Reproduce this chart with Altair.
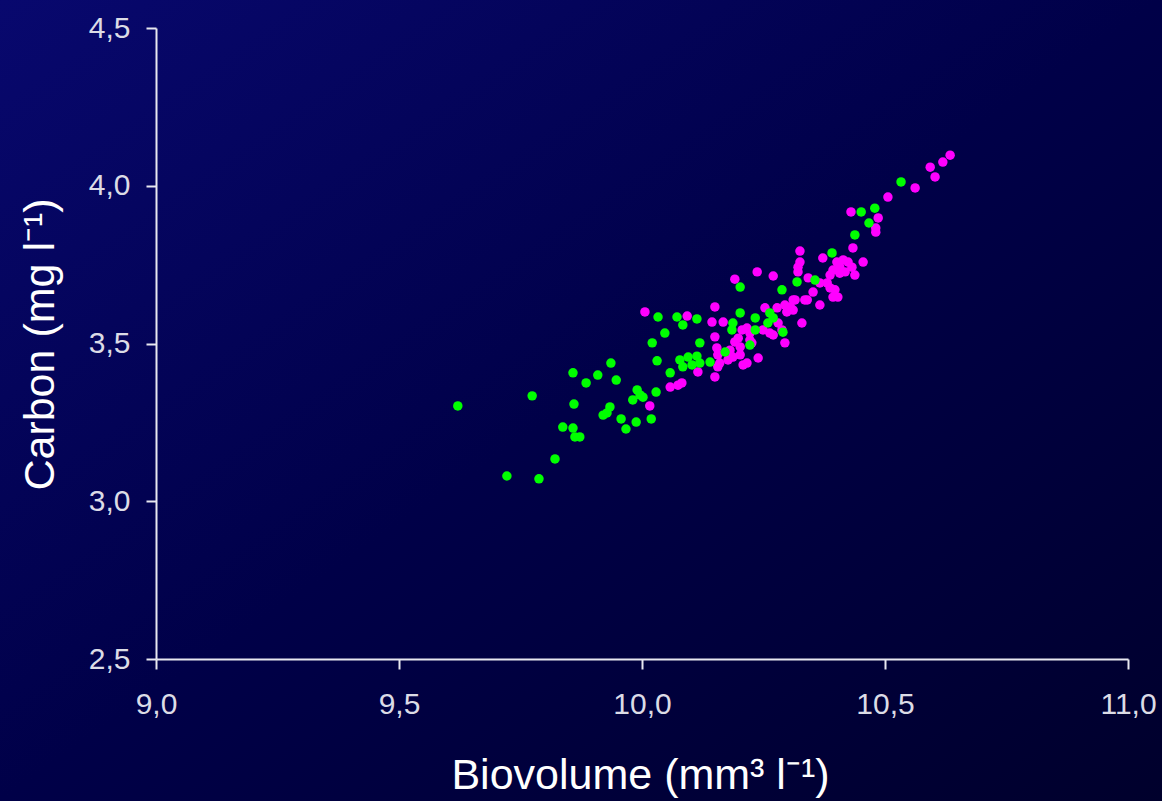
import altair as alt
import pandas as pd

# Biovolume (x) and carbon (y) per sample, two sample groups
green_bio = [9.621, 9.774, 9.722, 9.788, 9.821, 9.837, 9.858, 9.862, 9.872, 9.860,
             9.858, 9.885, 9.909, 9.936, 9.947, 9.920, 9.934, 9.928, 9.957, 9.967,
             9.988, 9.990, 9.996, 9.981, 10.002, 10.019, 10.029, 10.058, 10.021, 10.047,
             10.031, 10.078, 10.095, 10.113, 10.103, 10.119, 10.084, 10.033, 10.072, 10.084,
             10.113, 10.119, 10.140, 10.171, 10.202, 10.187, 10.185, 10.233, 10.233, 10.259,
             10.270, 10.263, 10.222, 10.202, 10.288, 10.319, 10.290, 10.356, 10.391, 10.438,
             10.467, 10.451, 10.479, 10.533]
green_carbon = [3.302, 3.334, 3.080, 3.071, 3.134, 3.235, 3.232, 3.204, 3.204, 3.308,
                3.407, 3.375, 3.400, 3.438, 3.384, 3.273, 3.299, 3.280, 3.261, 3.229,
                3.251, 3.353, 3.337, 3.321, 3.330, 3.261, 3.346, 3.407, 3.502, 3.533,
                3.445, 3.448, 3.457, 3.460, 3.432, 3.438, 3.426, 3.584, 3.584, 3.559,
                3.578, 3.502, 3.441, 3.473, 3.597, 3.565, 3.543, 3.581, 3.543, 3.565,
                3.581, 3.597, 3.495, 3.679, 3.670, 3.695, 3.536, 3.701, 3.787, 3.844,
                3.882, 3.917, 3.929, 4.012]

magenta_bio = [10.006, 10.016, 10.058, 10.074, 10.082, 10.093, 10.115, 10.144, 10.150, 10.167,
               10.150, 10.154, 10.156, 10.150, 10.156, 10.160, 10.191, 10.237, 10.270, 10.321,
               10.340, 10.253, 10.278, 10.305, 10.315, 10.298, 10.280, 10.329, 10.206, 10.222,
               10.216, 10.249, 10.263, 10.288, 10.198, 10.191, 10.222, 10.226, 10.294, 10.181,
               10.202, 10.187, 10.202, 10.239, 10.216, 10.208, 10.177, 10.481, 10.434, 10.325,
               10.325, 10.321, 10.372, 10.401, 10.414, 10.424, 10.432, 10.455, 10.407, 10.393,
               10.387, 10.418, 10.438, 10.342, 10.366, 10.381, 10.387, 10.397, 10.393, 10.403,
               10.352, 10.311, 10.335, 10.366, 10.311, 10.634, 10.619, 10.593, 10.603, 10.562,
               10.506, 10.430, 10.486, 10.481, 10.407, 10.294, 10.270]
magenta_carbon = [3.600, 3.302, 3.362, 3.368, 3.375, 3.587, 3.410, 3.568, 3.616, 3.568,
                  3.521, 3.486, 3.464, 3.394, 3.426, 3.438, 3.704, 3.727, 3.714, 3.727,
                  3.638, 3.613, 3.613, 3.616, 3.638, 3.600, 3.565, 3.565, 3.543, 3.533,
                  3.549, 3.543, 3.533, 3.543, 3.517, 3.505, 3.511, 3.502, 3.502, 3.479,
                  3.489, 3.457, 3.464, 3.454, 3.438, 3.432, 3.448, 3.853, 3.803, 3.793,
                  3.758, 3.742, 3.771, 3.758, 3.765, 3.758, 3.742, 3.758, 3.742, 3.733,
                  3.717, 3.727, 3.717, 3.708, 3.692, 3.692, 3.676, 3.670, 3.647, 3.647,
                  3.663, 3.638, 3.638, 3.622, 3.606, 4.097, 4.075, 4.059, 4.028, 3.993,
                  3.964, 3.917, 3.898, 3.866, 3.723, 3.622, 3.527]

x_ticks = [9.0, 9.5, 10.0, 10.5, 11.0]
y_ticks = [2.5, 3.0, 3.5, 4.0, 4.5]

W, H = 972, 631
PAD = {"left": 156, "top": 28, "right": 34, "bottom": 142}
FONT = "Liberation Sans"

points = pd.concat([
    pd.DataFrame({"bio": magenta_bio, "carbon": magenta_carbon, "group": "B"}),
    pd.DataFrame({"bio": green_bio, "carbon": green_carbon, "group": "A"}),
], ignore_index=True)
points["order"] = (points["group"] == "A").astype(int)

x_scale = alt.Scale(domain=[9, 11], nice=False, zero=False)
y_scale = alt.Scale(domain=[2.5, 4.5], nice=False, zero=False)
label_expr = "replace(format(datum.value, '.1f'), '.', ',')"

# dark blue gradient behind everything, stretched over the padding
backdrop = alt.Chart(pd.DataFrame({"k": [0]})).mark_rect(
    fill=alt.Gradient(
        gradient="linear",
        stops=[
            alt.GradientStop(color="#08086e", offset=0),
            alt.GradientStop(color="#000048", offset=0.5),
            alt.GradientStop(color="#00002c", offset=1),
        ],
        x1=0, y1=0, x2=1, y2=1,
    )
).encode(
    x=alt.value(-PAD["left"]),
    x2=alt.value(W + PAD["right"]),
    y=alt.value(-PAD["top"]),
    y2=alt.value(H + PAD["bottom"]),
)

scatter = alt.Chart(points).mark_circle(size=90, opacity=1).encode(
    x=alt.X(
        "bio:Q", scale=x_scale,
        axis=alt.Axis(
            values=x_ticks, labelExpr=label_expr, grid=False, zindex=2, labelFlush=False,
            labelPadding=20,
            title="Biovolume (mm³ l⁻¹)",
            titleX=W / 2 - 2, titleY=116, titleBaseline="middle", titleAlign="center",
        ),
    ),
    y=alt.Y(
        "carbon:Q", scale=y_scale,
        axis=alt.Axis(
            values=y_ticks, labelExpr=label_expr, grid=False, zindex=2, labelFlush=False,
            labelPadding=16,
            title="Carbon (mg l⁻¹)",
            titleX=-116, titleY=316, titleBaseline="middle", titleAlign="center", titleAngle=270,
        ),
    ),
    color=alt.Color(
        "group:N",
        scale=alt.Scale(domain=["A", "B"], range=["#00ff00", "#ff00ff"]),
        legend=None,
    ),
    order=alt.Order("order:Q"),
)

chart = alt.layer(backdrop, scatter).properties(
    width=W, height=H,
    autosize=alt.AutoSizeParams(type="none"),
    padding=PAD,
    background="#00004a",
).configure_view(stroke=None).configure_axis(
    domainColor="#e8e8f0", domainWidth=2,
    tickColor="#e8e8f0", tickWidth=2, tickSize=10,
    labelColor="#dcdce6", labelFont=FONT, labelFontSize=30,
    titleColor="#ffffff", titleFont=FONT, titleFontSize=43, titleFontWeight="normal",
)

chart.save("out.html", embed_options={"renderer": "svg", "actions": False})
